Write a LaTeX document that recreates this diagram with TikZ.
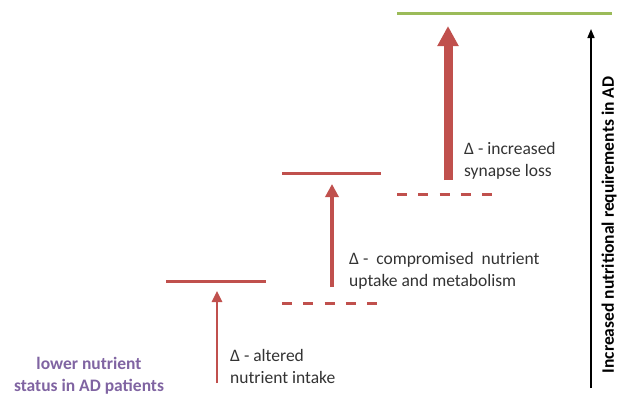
\documentclass[tikz,border=0pt]{standalone}
\usepackage{fontspec}
\setmainfont{Carlito}
\usetikzlibrary{arrows.meta}
\definecolor{adred}{HTML}{C0504D}
\definecolor{adgreen}{HTML}{9BBB59}
\definecolor{adpurple}{HTML}{8064A2}
\begin{document}
\begin{tikzpicture}[x=1pt,y=-1pt,
  level/.style={adred,line width=3pt},
  dlevel/.style={adred,line width=3pt,dash pattern=on 10pt off 11.25pt},
  lbl/.style={anchor=west,align=left,inner sep=0pt,font=\fontsize{17.5}{22}\selectfont,text=black!80}]
\useasboundingbox (0,0) rectangle (625,399);
% top green line
\draw[adgreen,line width=3pt] (397,13) -- (612,13);
% level lines
\draw[level] (166,281) -- (266,281);
\draw[dlevel] (282,303) -- (378,303);
\draw[level] (282,173) -- (381,173);
\draw[dlevel] (397,194) -- (492,194);
% arrow coordinates
\coordinate (a1s) at (217,383); \coordinate (a1e) at (217,291);
\coordinate (a2s) at (332,287); \coordinate (a2e) at (332,184);
\coordinate (a3s) at (448,180); \coordinate (a3e) at (448,26);
\coordinate (bs) at (591,388); \coordinate (be) at (591,29);
\draw[adred,line width=2.5pt,-{Triangle[width=10pt,length=11pt]}] (a1s) -- (a1e);
\draw[adred,line width=4pt,-{Triangle[width=13pt,length=13pt]}] (a2s) -- (a2e);
\draw[adred,line width=9pt,-{Triangle[width=20pt,length=20pt]}] (a3s) -- (a3e);
\draw[black,line width=1.6pt,-{Triangle[width=7pt,length=9pt]}] (bs) -- (be);
% labels
\node[lbl] (t1) at (230,366.5) {Δ - altered\\nutrient intake};
\node[lbl] (t2) at (349,271) {Δ -\ \ compromised\ \ nutrient\\uptake and metabolism};
\node[lbl] (t3) at (464,161) {Δ - increased\\synapse loss};
\node[align=center,inner sep=0pt,font=\bfseries\fontsize{17.5}{22}\selectfont,text=adpurple] (p) at (89,376) {lower nutrient\\status in AD patients};
\node[rotate=90,inner sep=0pt,font=\bfseries\fontsize{17.5}{22}\selectfont] (r) at (609,225) {Increased nutritional requirements in AD};
\end{tikzpicture}
\end{document}
